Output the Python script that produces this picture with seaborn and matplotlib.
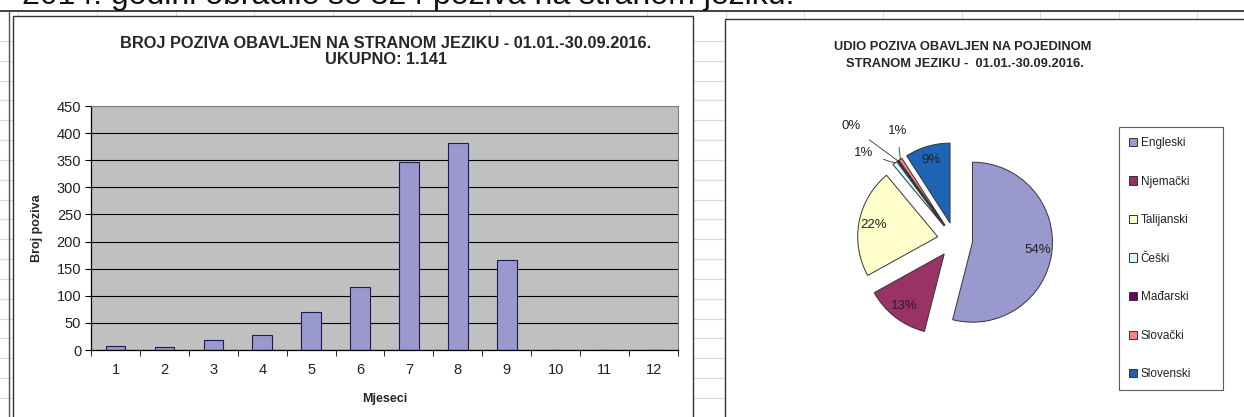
import numpy as np
import seaborn as sns
import matplotlib.pyplot as plt
from matplotlib.patches import Rectangle

# podaci
mjeseci = ['1', '2', '3', '4', '5', '6', '7', '8', '9', '10', '11', '12']
broj_poziva = [8, 5, 19, 27, 71, 116, 347, 382, 166, 0, 0, 0]
jezici = ['Engleski', 'Njemački', 'Talijanski', 'Češki', 'Mađarski', 'Slovački', 'Slovenski']
poziva_po_jeziku = [616, 148, 251, 11, 3, 8, 104]
boje = ['#9999D0', '#993366', '#FFFFCC', '#CCFFFF', '#660066', '#FF8080', '#1F63B4']

W, H = 1244, 417
sns.set_style('white')
plt.rcParams['font.family'] = ['Liberation Sans', 'DejaVu Sans']

fig = plt.figure(figsize=(W / 100, H / 100), dpi=100)


def px_axes(x0, y0, x1, y1):
    # box in pixels, y measured from the top
    return fig.add_axes([x0 / W, 1 - y1 / H, (x1 - x0) / W, (y1 - y0) / H])


# spreadsheet background
bg = px_axes(0, 0, W, H)
bg.set_xlim(0, W)
bg.set_ylim(H, 0)
bg.axis('off')
for y in np.arange(41, H, 19.83):
    bg.plot([0, W], [y, y], color='#DADADA', lw=0.8, zorder=1)
for x in np.arange(18.4, W, 78.6):
    bg.plot([x, x], [11, H], color='#DADADA', lw=0.8, zorder=1)
bg.plot([0, W], [11, 11], color='#333333', lw=1.3, zorder=3)
bg.plot([9, 9], [11, H], color='#555555', lw=1, zorder=3)
bg.add_patch(Rectangle((13, 16), 680, 420, facecolor='white', edgecolor='#333333', lw=1, zorder=2))
bg.add_patch(Rectangle((725, 19), 540, 420, facecolor='white', edgecolor='#333333', lw=1, zorder=2))
bg.text(22, 4, '2014. godini obrađile se 324 poziva na stranom jeziku.', fontsize=23,
        va='baseline', ha='left', color='#111111', zorder=4)

# bar chart
bg.text(386, 43, 'BROJ POZIVA OBAVLJEN NA STRANOM JEZIKU - 01.01.-30.09.2016.',
        fontsize=11.8, fontweight='bold', ha='center', va='center', zorder=4)
bg.text(386, 59, 'UKUPNO: 1.141', fontsize=11.8, fontweight='bold', ha='center', va='center', zorder=4)

ax = px_axes(91, 106, 678, 350)
sns.barplot(x=mjeseci, y=broj_poziva, color=boje[0], saturation=1, width=0.4,
            edgecolor='#1C1C50', linewidth=0.8, ax=ax)
ax.set_facecolor('#C0C0C0')
ax.set_ylim(0, 450)
ax.set_yticks(range(0, 451, 50))
ax.yaxis.grid(True, color='black', lw=0.8)
ax.set_axisbelow(True)
for s in ['left', 'bottom']:
    ax.spines[s].set_color('black')
    ax.spines[s].set_linewidth(0.9)
for s in ['top', 'right']:
    ax.spines[s].set_color('#808080')
    ax.spines[s].set_linewidth(0.8)
ax.set_xticks(np.arange(-0.5, 12, 1), minor=True)
ax.tick_params(axis='x', which='major', length=0, pad=9, labelsize=10.5, labelcolor='#222222')
ax.tick_params(axis='x', which='minor', length=4, direction='out', color='black', bottom=True)
ax.tick_params(axis='y', length=4, direction='out', color='black', left=True, labelsize=10.5,
               labelcolor='#222222', pad=3)
ax.set_xlabel('Mjeseci', fontsize=9, fontweight='bold', labelpad=12)
ax.set_ylabel('Broj poziva', fontsize=9, fontweight='bold', labelpad=10)

# pie chart
bg.text(963, 47, 'UDIO POZIVA OBAVLJEN NA POJEDINOM', fontsize=9.3, fontweight='bold',
        ha='center', va='center', zorder=4)
bg.text(965, 64, 'STRANOM JEZIKU -  01.01.-30.09.2016.', fontsize=9.3, fontweight='bold',
        ha='center', va='center', zorder=4)

ax2 = px_axes(955 - 128, 240 - 128, 955 + 128, 240 + 128)
ukupno = sum(poziva_po_jeziku)
explode = 0.22


def pct(p):
    return f'{p:.0f}%' if p >= 5 else ''


wedges, texts, autotexts = ax2.pie(poziva_po_jeziku, colors=boje, startangle=90, counterclock=False,
                                   explode=[explode] * len(jezici), autopct=pct, pctdistance=0.82,
                                   wedgeprops=dict(edgecolor='#333333', linewidth=0.7),
                                   textprops=dict(fontsize=9.5, color='#222222'))
ax2.set_xlim(-1.6, 1.6)
ax2.set_ylim(-1.6, 1.6)
ax2.axis('off')

# small slices get outside labels with leader lines
label_xy = {3: (-1.14, 1.09), 4: (-1.30, 1.42), 5: (-0.72, 1.36)}
for i, (tx, ty) in label_xy.items():
    w = wedges[i]
    ang = np.deg2rad((w.theta1 + w.theta2) / 2)
    ex, ey = (1 + explode) * np.cos(ang), (1 + explode) * np.sin(ang)
    share = 100 * poziva_po_jeziku[i] / ukupno
    ax2.annotate(f'{share:.0f}%', xy=(ex, ey), xytext=(tx, ty), fontsize=9.5, color='#222222',
                 ha='center', va='center', annotation_clip=False,
                 arrowprops=dict(arrowstyle='-', color='#333333', lw=0.6, shrinkA=5, shrinkB=0))

leg = ax2.legend(wedges, jezici, loc='upper left', bbox_to_anchor=(1119 / W, 1 - 396 / H, 104 / W, 269 / H),
                 bbox_transform=fig.transFigure, mode='expand', fontsize=8.5, frameon=True, fancybox=False,
                 edgecolor='#333333', handlelength=0.7, handleheight=0.7, handletextpad=0.3,
                 labelspacing=2.25, borderpad=0.85, borderaxespad=0)
leg.get_frame().set_linewidth(0.8)
for t in leg.get_texts():
    t.set_color('#222222')

fig.savefig('out.png', dpi=100)
